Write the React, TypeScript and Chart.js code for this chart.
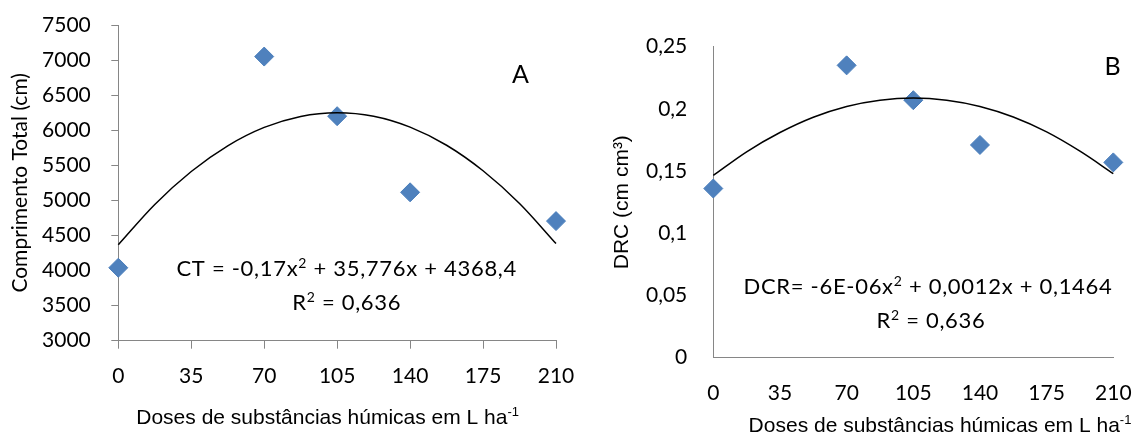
import React, { useEffect, useRef } from "react";
import { Chart, registerables } from "chart.js";
Chart.register(...registerables);

// ---- data ----
const doses = [0, 70, 105, 140, 210];
const ctValues = [4040, 7050, 6200, 5115, 4705];
const drcValues = [0.136, 0.235, 0.207, 0.171, 0.157];

// fitted curves
const trendDoses = [0, 17.5, 35, 52.5, 70, 87.5, 105, 122.5, 140, 157.5, 175, 192.5, 210];
const ctTrend = [4368, 4942, 5412, 5778, 6040, 6197, 6250, 6200, 6045, 5786, 5422, 4955, 4384];
const drcTrend = [0.1465, 0.1655, 0.181, 0.1933, 0.202, 0.207, 0.2088, 0.207, 0.202, 0.1935, 0.1815, 0.166, 0.148];

const xTicks = [0, 35, 70, 105, 140, 175, 210];
const xTickLabels = ["0", "35", "70", "105", "140", "175", "210"];
const ctTicks = [3000, 3500, 4000, 4500, 5000, 5500, 6000, 6500, 7000, 7500];
const ctTickLabels = ["3000", "3500", "4000", "4500", "5000", "5500", "6000", "6500", "7000", "7500"];
const drcTicks = [0, 0.05, 0.1, 0.15, 0.2, 0.25];
const drcTickLabels = ["0", "0,05", "0,1", "0,15", "0,2", "0,25"];

const xTitleMain = "Doses de substâncias húmicas em L ha";
const xTitleSup = "-1";

type Note = { text: string; x: number; y: number; size: number; spacing: number };

type PanelCfg = {
  points: number[];
  trend: number[];
  yMin: number;
  yMax: number;
  yTicks: number[];
  yLabels: string[];
  padTop: number;
  padRight: number;
  yWidth: number;
  xHeight: number;
  yTickLen: number;
  yTickPad: number;
  xTickLen: number;
  xTickPad: number;
  yTitle: string;
  yTitleFont: { family: string; size: number };
  yTitlePad: number;
  xTitleOffset: number;
  xTitleBaseline: number;
  notes: Note[];
};

const panelA: PanelCfg = {
  points: ctValues,
  trend: ctTrend,
  yMin: 3000,
  yMax: 7500,
  yTicks: ctTicks,
  yLabels: ctTickLabels,
  padTop: 25,
  padRight: 44,
  yWidth: 118.3,
  xHeight: 94.3,
  yTickLen: 7,
  yTickPad: 20.5,
  xTickLen: 8,
  xTickPad: 14.5,
  yTitle: "Comprimento Total (cm)",
  yTitleFont: { family: "Lato", size: 21 },
  yTitlePad: 7.4,
  xTitleOffset: -9.5,
  xTitleBaseline: 424,
  notes: [
    { text: "CT = -0,17x² + 35,776x + 4368,4", x: 109.6, y: 4040, size: 22, spacing: 0.7 },
    { text: "R² = 0,636", x: 109.6, y: 3551, size: 22, spacing: 0.7 },
    { text: "A", x: 193, y: 6801, size: 25, spacing: 0 },
  ],
};

const panelB: PanelCfg = {
  points: drcValues,
  trend: drcTrend,
  yMin: 0,
  yMax: 0.25,
  yTicks: drcTicks,
  yLabels: drcTickLabels,
  padTop: 46.7,
  padRight: 26.7,
  yWidth: 143.3,
  xHeight: 77.3,
  yTickLen: 0,
  yTickPad: 26,
  xTickLen: 0,
  xTickPad: 23,
  yTitle: "DRC (cm cm³)",
  yTitleFont: { family: "Liberation Sans", size: 21 },
  yTitlePad: 39.4,
  xTitleOffset: 26.7,
  xTitleBaseline: 431.7,
  notes: [
    { text: "DCR= -6E-06x² + 0,0012x + 0,1464", x: 112.7, y: 0.0576, size: 22, spacing: 0.7 },
    { text: "R² = 0,636", x: 114.3, y: 0.0304, size: 22, spacing: 0.7 },
    { text: "B", x: 209.6, y: 0.2347, size: 25, spacing: 0 },
  ],
};

// draws text centred on (cx, cy); "²" is drawn as a raised, smaller "2"
function drawRich(ctx: CanvasRenderingContext2D, n: Note, cx: number, cy: number) {
  const parts = n.text.split("²");
  const mainFont = `${n.size}px "Lato"`;
  const supSize = Math.round(n.size * 0.64);
  const supFont = `${supSize}px "Lato"`;
  (ctx as any).letterSpacing = n.spacing + "px";
  const segs: { t: string; sup: boolean; w: number }[] = [];
  parts.forEach((p, i) => {
    if (i > 0) {
      ctx.font = supFont;
      segs.push({ t: "2", sup: true, w: ctx.measureText("2").width });
    }
    if (p.length) {
      ctx.font = mainFont;
      segs.push({ t: p, sup: false, w: ctx.measureText(p).width });
    }
  });
  const total = segs.reduce((a, s) => a + s.w, 0);
  let x = cx - total / 2;
  const baseline = cy + n.size * 0.36;
  ctx.textAlign = "left";
  ctx.textBaseline = "alphabetic";
  for (const s of segs) {
    ctx.font = s.sup ? supFont : mainFont;
    ctx.fillText(s.t, x, s.sup ? baseline - n.size * 0.34 : baseline);
    x += s.w;
  }
  (ctx as any).letterSpacing = "0px";
}

function makeChart(canvas: HTMLCanvasElement, cfg: PanelCfg) {
  const textPlugin = {
    id: "panelText",
    afterDraw(chart: any) {
      const ctx = chart.ctx as CanvasRenderingContext2D;
      const xs = chart.scales.x;
      const ys = chart.scales.y;
      const area = chart.chartArea;
      ctx.save();
      ctx.fillStyle = "#000";
      for (const n of cfg.notes) {
        drawRich(ctx, n, xs.getPixelForValue(n.x), ys.getPixelForValue(n.y));
      }
      // x axis title with superscript
      ctx.textAlign = "left";
      ctx.textBaseline = "alphabetic";
      ctx.font = '21px "Liberation Sans"';
      const wMain = ctx.measureText(xTitleMain).width;
      ctx.font = '13px "Liberation Sans"';
      const wSup = ctx.measureText(xTitleSup).width;
      const cx = (area.left + area.right) / 2 + cfg.xTitleOffset;
      const sx = cx - (wMain + wSup) / 2;
      ctx.font = '21px "Liberation Sans"';
      ctx.fillText(xTitleMain, sx, cfg.xTitleBaseline);
      ctx.font = '13px "Liberation Sans"';
      ctx.fillText(xTitleSup, sx + wMain, cfg.xTitleBaseline - 8);
      ctx.restore();
    },
  };

  return new Chart(canvas, {
    type: "scatter",
    data: {
      datasets: [
        {
          data: trendDoses.map((x, i) => ({ x, y: cfg.trend[i] })),
          showLine: true,
          borderColor: "#000",
          borderWidth: 1.5,
          pointRadius: 0,
          cubicInterpolationMode: "monotone",
          fill: false,
          clip: false,
        } as any,
        {
          data: doses.map((x, i) => ({ x, y: cfg.points[i] })),
          showLine: false,
          pointStyle: "rectRot",
          pointRadius: 9.5,
          backgroundColor: "#4F81BD",
          borderColor: "#4A7EBB",
          borderWidth: 1,
          clip: false,
        } as any,
      ],
    },
    options: {
      responsive: false,
      animation: false,
      events: [],
      layout: { padding: { top: cfg.padTop, right: cfg.padRight, left: 0, bottom: 0 } },
      plugins: { legend: { display: false }, tooltip: { enabled: false } },
      scales: {
        x: {
          type: "linear",
          min: 0,
          max: 210,
          afterBuildTicks: (s: any) => {
            s.ticks = xTicks.map((v) => ({ value: v }));
          },
          afterFit: (s: any) => {
            s.height = cfg.xHeight;
            s.paddingLeft = 0;
            s.paddingRight = 0;
          },
          ticks: {
            autoSkip: false,
            maxRotation: 0,
            color: "#000",
            padding: cfg.xTickPad,
            font: { family: "Lato", size: 21 },
            callback: (v: any) => xTickLabels[xTicks.indexOf(Number(v))],
          },
          grid: {
            drawOnChartArea: false,
            drawTicks: cfg.xTickLen > 0,
            tickLength: cfg.xTickLen,
            color: "#868686",
          },
          border: { color: "#868686", width: 1 },
        },
        y: {
          type: "linear",
          min: cfg.yMin,
          max: cfg.yMax,
          afterBuildTicks: (s: any) => {
            s.ticks = cfg.yTicks.map((v) => ({ value: v }));
          },
          afterFit: (s: any) => {
            s.width = cfg.yWidth;
            s.paddingTop = 0;
            s.paddingBottom = 0;
          },
          ticks: {
            color: "#000",
            padding: cfg.yTickPad,
            font: { family: "Lato", size: 21 },
            callback: (v: any) => cfg.yLabels[cfg.yTicks.indexOf(Number(v))],
          },
          grid: {
            drawOnChartArea: false,
            drawTicks: cfg.yTickLen > 0,
            tickLength: cfg.yTickLen,
            color: "#868686",
          },
          border: { color: "#868686", width: 1 },
          title: {
            display: true,
            text: cfg.yTitle,
            color: "#000",
            font: cfg.yTitleFont,
            padding: { top: cfg.yTitlePad, bottom: 0 },
          },
        },
      },
    } as any,
    plugins: [textPlugin],
  });
}

function Panel({ cfg, left, width }: { cfg: PanelCfg; left: number; width: number }) {
  const ref = useRef<HTMLCanvasElement | null>(null);
  useEffect(() => {
    if (!ref.current) return;
    const chart = makeChart(ref.current, cfg);
    return () => chart.destroy();
  }, [cfg]);
  return (
    <canvas
      ref={ref}
      width={width}
      height={435}
      style={{ position: "absolute", left, top: 0, width, height: 435, display: "block" }}
    />
  );
}

export default function App() {
  return (
    <div style={{ position: "absolute", left: 0, top: 0, width: 1140, height: 435, background: "#fff", overflow: "hidden" }}>
      <Panel cfg={panelA} left={0} width={600} />
      <Panel cfg={panelB} left={570} width={570} />
    </div>
  );
}
